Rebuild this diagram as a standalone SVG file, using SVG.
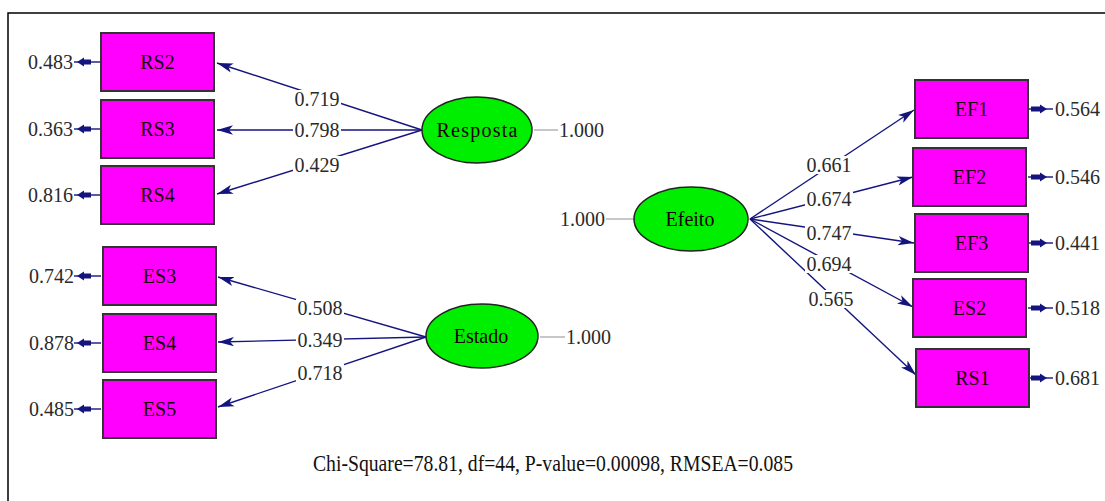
<svg xmlns="http://www.w3.org/2000/svg" xmlns:xlink="http://www.w3.org/1999/xlink" width="1105" height="501" viewBox="0 0 1105 501">
<style>
.box{fill:#ff00ff;stroke:#333;stroke-width:2}
.lat{fill:#00ee00;stroke:#222;stroke-width:1.5}
.nt{font-family:"Liberation Serif","Times New Roman",serif;font-size:20px;fill:#1a0008;text-anchor:middle}
.num{font-family:"Liberation Serif","Times New Roman",serif;font-size:20px;fill:#2a2a2a}
.path{stroke:#14147e;stroke-width:1.4;fill:none}
.var{stroke:#b4b4b4;stroke-width:1.5;fill:none}
.bg{fill:#fff}
.ea{fill:#14147e}
</style>
<defs>
<marker id="ah" markerUnits="userSpaceOnUse" markerWidth="17" markerHeight="11" refX="16" refY="5.5" orient="auto">
<path d="M0,0.8 L16,5.5 L0,10.2 L4,5.5 Z" fill="#14147e"/>
</marker>
<g id="errL">
<line x1="74" y1="0" x2="101" y2="0" class="path"/>
<polygon class="ea" points="77,0 84,-4.5 84,-2.5 91,-2.5 91,2.5 84,2.5 84,4.5"/>
</g>
<g id="errR">
<line x1="1028" y1="0" x2="1053" y2="0" class="path"/>
<polygon class="ea" points="1047,0 1040,-4.5 1040,-2.5 1031,-2.5 1031,2.5 1040,2.5 1040,4.5"/>
</g>
</defs>
<rect width="1105" height="501" fill="#fff"/>
<path d="M8,501 V13 H1105" fill="none" stroke="#000" stroke-width="1.5"/>

<g id="connectors">
<line class="path" x1="422" y1="130" x2="217" y2="63" marker-end="url(#ah)"/>
<line class="path" x1="422" y1="130" x2="217" y2="130" marker-end="url(#ah)"/>
<line class="path" x1="422" y1="130" x2="217" y2="194" marker-end="url(#ah)"/>
<line class="path" x1="426" y1="337" x2="218" y2="277" marker-end="url(#ah)"/>
<line class="path" x1="426" y1="337" x2="218" y2="342" marker-end="url(#ah)"/>
<line class="path" x1="426" y1="337" x2="218" y2="407" marker-end="url(#ah)"/>
<line class="path" x1="750" y1="219" x2="914" y2="110" marker-end="url(#ah)"/>
<line class="path" x1="750" y1="219" x2="913" y2="177" marker-end="url(#ah)"/>
<line class="path" x1="750" y1="219" x2="914" y2="243" marker-end="url(#ah)"/>
<line class="path" x1="750" y1="219" x2="913" y2="307" marker-end="url(#ah)"/>
<line class="path" x1="750" y1="219" x2="916" y2="375" marker-end="url(#ah)"/>
<line class="var" x1="534" y1="130" x2="558" y2="130"/>
<line class="var" x1="540" y1="337" x2="565" y2="337"/>
<line class="var" x1="606" y1="219" x2="635" y2="219"/>
<use xlink:href="#errL" y="62"/>
<use xlink:href="#errL" y="129"/>
<use xlink:href="#errL" y="195"/>
<use xlink:href="#errL" y="276"/>
<use xlink:href="#errL" y="343"/>
<use xlink:href="#errL" y="409"/>
<use xlink:href="#errR" y="109"/>
<use xlink:href="#errR" y="177"/>
<use xlink:href="#errR" y="243"/>
<use xlink:href="#errR" y="308"/>
<use xlink:href="#errR" y="378"/>
<g id="path-labels">
<rect class="bg" x="293" y="90" width="48" height="18"/><text class="num" x="317" y="106" text-anchor="middle">0.719</text>
<rect class="bg" x="293" y="121" width="48" height="18"/><text class="num" x="317" y="137" text-anchor="middle">0.798</text>
<rect class="bg" x="293" y="156" width="48" height="18"/><text class="num" x="317" y="172" text-anchor="middle">0.429</text>
<rect class="bg" x="296" y="299" width="48" height="18"/><text class="num" x="320" y="315" text-anchor="middle">0.508</text>
<rect class="bg" x="296" y="331" width="48" height="18"/><text class="num" x="320" y="347" text-anchor="middle">0.349</text>
<rect class="bg" x="296" y="364" width="48" height="18"/><text class="num" x="320" y="380" text-anchor="middle">0.718</text>
<rect class="bg" x="805" y="156" width="48" height="18"/><text class="num" x="829" y="172" text-anchor="middle">0.661</text>
<rect class="bg" x="805" y="190" width="48" height="18"/><text class="num" x="829" y="206" text-anchor="middle">0.674</text>
<rect class="bg" x="805" y="224" width="48" height="18"/><text class="num" x="829" y="240" text-anchor="middle">0.747</text>
<rect class="bg" x="805" y="255" width="48" height="18"/><text class="num" x="829" y="271" text-anchor="middle">0.694</text>
<rect class="bg" x="807" y="290" width="48" height="18"/><text class="num" x="831" y="306" text-anchor="middle">0.565</text>
</g>
<g id="error-labels">
<text class="num" x="73" y="69" text-anchor="end">0.483</text>
<text class="num" x="73" y="136" text-anchor="end">0.363</text>
<text class="num" x="73" y="202" text-anchor="end">0.816</text>
<text class="num" x="74" y="283" text-anchor="end">0.742</text>
<text class="num" x="74" y="350" text-anchor="end">0.878</text>
<text class="num" x="74" y="416" text-anchor="end">0.485</text>
<text class="num" x="1055" y="116">0.564</text>
<text class="num" x="1055" y="184">0.546</text>
<text class="num" x="1055" y="250">0.441</text>
<text class="num" x="1055" y="315">0.518</text>
<text class="num" x="1055" y="385">0.681</text>
<text class="num" x="559" y="137">1.000</text>
<text class="num" x="566" y="344">1.000</text>
<text class="num" x="605" y="226" text-anchor="end">1.000</text>
</g>
</g>

<g id="RS2"><rect class="box" x="101" y="33" width="113" height="58"/><text class="nt" x="157.5" y="69">RS2</text></g>
<g id="RS3"><rect class="box" x="101" y="100" width="113" height="58"/><text class="nt" x="157.5" y="136">RS3</text></g>
<g id="RS4"><rect class="box" x="101" y="166" width="113" height="58"/><text class="nt" x="157.5" y="202">RS4</text></g>
<g id="ES3"><rect class="box" x="103" y="247" width="113" height="58"/><text class="nt" x="159.5" y="283">ES3</text></g>
<g id="ES4"><rect class="box" x="103" y="314" width="113" height="58"/><text class="nt" x="159.5" y="350">ES4</text></g>
<g id="ES5"><rect class="box" x="103" y="380" width="113" height="58"/><text class="nt" x="159.5" y="416">ES5</text></g>
<g id="EF1"><rect class="box" x="915" y="80" width="113" height="58"/><text class="nt" x="971.5" y="116">EF1</text></g>
<g id="EF2"><rect class="box" x="913" y="148" width="113" height="58"/><text class="nt" x="969.5" y="184">EF2</text></g>
<g id="EF3"><rect class="box" x="915" y="214" width="113" height="58"/><text class="nt" x="971.5" y="250">EF3</text></g>
<g id="ES2"><rect class="box" x="913" y="279" width="113" height="58"/><text class="nt" x="969.5" y="315">ES2</text></g>
<g id="RS1"><rect class="box" x="916" y="349" width="113" height="58"/><text class="nt" x="972.5" y="385">RS1</text></g>

<g id="Resposta"><ellipse class="lat" cx="477" cy="130" rx="55" ry="33"/><text class="nt" x="477" y="137" textLength="81" lengthAdjust="spacing">Resposta</text></g>
<g id="Estado"><ellipse class="lat" cx="482" cy="336" rx="56" ry="32"/><text class="nt" x="481" y="343">Estado</text></g>
<g id="Efeito"><ellipse class="lat" cx="691" cy="219" rx="57" ry="32"/><text class="nt" x="690" y="226">Efeito</text></g>

<text x="553" y="471" text-anchor="middle" fill="#111" font-family="'Liberation Serif','Times New Roman',serif" font-size="23" textLength="480" lengthAdjust="spacingAndGlyphs">Chi-Square=78.81, df=44, P-value=0.00098, RMSEA=0.085</text>
</svg>
